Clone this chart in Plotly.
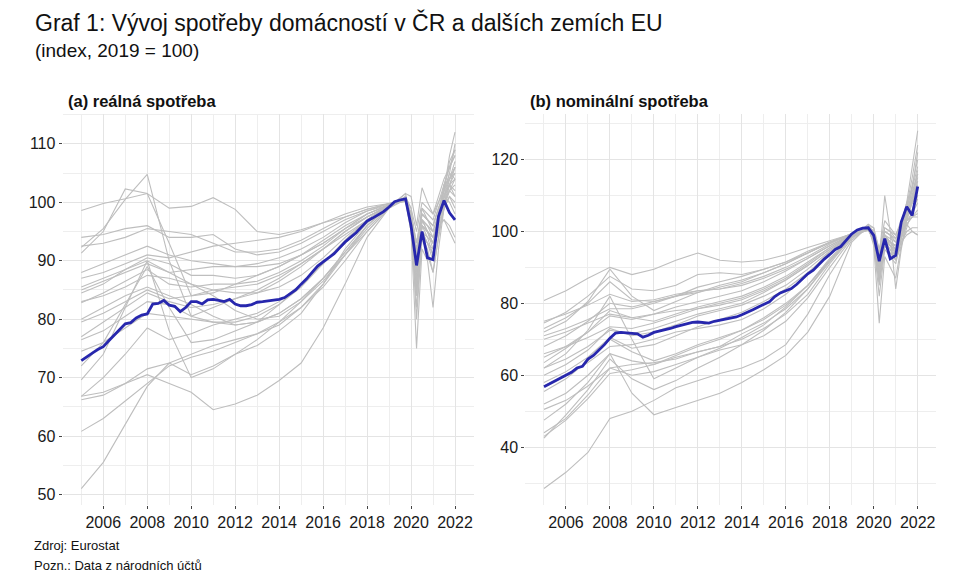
import plotly.graph_objects as go

# ---------------- data ----------------
# grey lines: annual Q1 points 2005-2019, then quarterly 2019Q4-2022Q1
grey_x = [2005, 2006, 2007, 2008, 2009, 2010, 2011, 2012, 2013, 2014, 2015, 2016, 2017, 2018, 2019,
          2019.75, 2020.0, 2020.25, 2020.5, 2020.75, 2021.0, 2021.25, 2021.5, 2021.75, 2022.0]

real_r01 = [98.6, 99.8, 100.6, 101.5, 99.0, 99.3, 100.8, 98.8, 95.0, 94.5, 95.3, 96.5, 98.0, 99.2, 99.8, 100.4, 98, 89, 96, 95, 92, 95, 99, 101, 100]
real_r02 = [92.3, 95.5, 100.5, 104.8, 90.0, 80.5, 82.0, 83.5, 85.0, 87.0, 89.5, 92.0, 95.0, 97.5, 99.5, 100.5, 97, 85, 95, 94, 93, 98, 103, 106, 108]
real_r03 = [91.3, 95.0, 102.3, 101.5, 93.0, 84.0, 84.5, 86.0, 87.5, 89.0, 91.0, 93.0, 95.5, 97.5, 99.3, 100.6, 97, 86, 94, 93, 90, 97, 102, 105, 104]
real_r04 = [94.0, 94.5, 95.5, 96.0, 94.0, 94.0, 94.5, 92.0, 91.0, 91.5, 93.0, 95.0, 97.0, 98.5, 99.5, 100.3, 97, 87, 96, 95, 93, 96, 100, 102, 101]
real_r05 = [92.5, 93.0, 94.0, 95.5, 95.0, 94.5, 93.0, 91.5, 91.5, 92.0, 93.5, 95.5, 97.5, 98.8, 99.7, 100.2, 96, 90, 97, 96, 94, 97, 100, 103, 104]
real_r06 = [85.0, 86.5, 88.0, 89.5, 88.0, 88.5, 89.0, 89.0, 89.5, 90.5, 92.0, 94.0, 96.5, 98.5, 99.8, 100.5, 98, 92, 98, 97, 96, 99, 101, 103, 102]
real_r07 = [84.5, 86.0, 88.5, 90.5, 89.5, 87.5, 87.5, 87.0, 87.5, 89.0, 91.0, 93.5, 96.0, 98.0, 99.5, 100.8, 96, 84, 95, 93, 92, 95, 99, 102, 103]
real_r08 = [82.8, 84.5, 86.5, 88.5, 86.0, 85.5, 86.0, 86.0, 86.5, 88.0, 90.0, 92.5, 95.5, 98.0, 99.6, 100.2, 95, 85, 96, 94, 91, 97, 101, 104, 106]
real_r09 = [85.5, 87.0, 88.5, 90.0, 88.0, 86.0, 84.0, 81.5, 80.0, 80.5, 83.0, 86.5, 91.0, 95.0, 99.0, 101.0, 96, 82, 94, 92, 88, 94, 99, 101, 99]
real_r10 = [80.0, 82.0, 84.0, 85.5, 84.0, 82.5, 80.5, 79.0, 79.5, 81.0, 83.5, 87.0, 91.5, 96.0, 99.3, 100.5, 97, 88, 96, 95, 93, 97, 100, 102, 104]
real_r11 = [79.5, 81.0, 83.0, 85.0, 83.5, 84.0, 85.0, 85.5, 86.0, 87.5, 89.5, 92.0, 94.5, 97.0, 99.4, 100.4, 96, 86, 97, 95, 93, 98, 102, 107, 109]
real_r12 = [77.0, 79.5, 82.0, 84.5, 83.0, 82.0, 82.5, 83.5, 84.5, 86.5, 89.0, 92.0, 95.0, 97.5, 99.5, 100.7, 98, 90, 97, 96, 95, 98, 101, 103, 105]
real_r13 = [76.5, 78.0, 80.5, 83.0, 82.5, 80.5, 79.5, 79.0, 79.5, 81.0, 83.5, 87.0, 91.0, 95.5, 99.2, 101.5, 97, 80, 94, 91, 88, 94, 100, 104, 107]
real_r14 = [74.5, 76.0, 78.5, 81.0, 80.5, 80.0, 79.5, 79.5, 80.5, 82.5, 85.5, 89.5, 93.5, 97.0, 99.5, 100.3, 96, 84, 95, 93, 91, 96, 101, 105, 110]
real_r15 = [69.6, 74.0, 82.0, 90.0, 78.0, 70.0, 71.5, 74.0, 76.5, 79.5, 83.0, 87.0, 91.5, 96.0, 99.3, 101.0, 98, 91, 98, 97, 96, 99, 102, 108, 112]
real_r16 = [72.0, 76.0, 82.5, 89.0, 82.0, 76.0, 76.5, 78.0, 79.5, 82.5, 86.0, 89.5, 93.0, 96.5, 99.5, 100.5, 97, 90, 97, 96, 95, 98, 103, 106, 109]
real_r17 = [66.8, 70.0, 74.0, 78.5, 76.5, 77.5, 79.0, 80.0, 81.0, 83.0, 86.0, 89.5, 93.5, 97.0, 99.5, 100.4, 98, 93, 99, 98, 97, 100, 103, 104, 105]
real_r18 = [66.2, 67.0, 69.0, 71.5, 72.5, 74.0, 75.5, 76.5, 77.5, 79.5, 82.0, 86.0, 91.0, 96.0, 99.3, 100.6, 97, 88, 97, 95, 94, 97, 101, 103, 101]
real_r19 = [60.8, 63.0, 66.0, 69.0, 72.0, 73.5, 74.5, 76.0, 77.5, 79.0, 82.0, 85.5, 90.0, 95.0, 99.0, 100.8, 99, 95, 100, 99, 98, 100, 102, 104, 106]
real_r20 = [51.0, 55.5, 62.0, 68.5, 72.5, 70.5, 72.0, 74.0, 75.5, 78.0, 81.0, 86.0, 92.0, 96.5, 99.2, 101.5, 101, 96, 102.5, 100, 98, 101, 104, 106, 108]
real_r21 = [66.8, 67.5, 69.0, 70.5, 69.0, 67.5, 64.5, 65.5, 67.0, 69.5, 72.5, 78.5, 86.0, 94.0, 99.0, 100.5, 95, 75, 92, 90, 82, 92, 99, 103, 106]
real_r22 = [87.0, 88.0, 89.5, 91.0, 90.5, 91.5, 92.5, 93.0, 93.5, 94.0, 95.0, 96.5, 97.5, 98.8, 99.8, 100.2, 98, 93, 98, 97, 96, 99, 101, 100, 98]
real_r23 = [83.0, 84.0, 85.5, 87.5, 87.0, 86.0, 85.0, 84.5, 84.5, 85.5, 87.5, 90.5, 94.0, 97.0, 99.4, 100.4, 97, 89, 96, 95, 94, 96, 97, 95, 93]
real_r24 = [88.0, 89.5, 91.0, 92.5, 91.0, 90.0, 89.5, 89.0, 89.0, 89.5, 91.0, 93.0, 95.5, 98.0, 99.6, 100.9, 99, 91, 99, 97, 95, 96, 97, 96, 94]

nom_n01 = [80.8, 83.5, 87.0, 90.0, 88.0, 89.5, 92.0, 94.0, 92.0, 91.5, 92.0, 93.5, 95.5, 97.5, 99.3, 100.6, 99, 90, 98, 97, 95, 99, 102, 100, 99]
nom_n02 = [74.5, 77.5, 82.0, 87.5, 84.0, 83.5, 85.0, 88.0, 88.5, 88.0, 89.5, 91.5, 94.5, 97.0, 99.2, 100.5, 98, 86, 97, 95, 92, 98, 104, 108, 114]
nom_n03 = [73.0, 76.0, 80.0, 86.0, 81.0, 80.5, 82.0, 83.5, 84.0, 85.5, 87.5, 90.0, 93.0, 96.5, 99.4, 101.0, 99, 88, 99, 96, 94, 99, 104, 110, 117]
nom_n04 = [72.0, 75.0, 80.5, 89.5, 82.0, 78.0, 80.5, 83.0, 85.0, 86.5, 88.5, 91.0, 94.0, 97.0, 99.3, 100.8, 98, 85, 96, 94, 93, 100, 106, 113, 120]
nom_n05 = [71.0, 73.0, 75.5, 78.5, 78.5, 80.0, 82.0, 84.5, 86.0, 87.5, 89.5, 91.5, 94.0, 96.8, 99.3, 100.5, 98, 88, 98, 96, 95, 99, 103, 105, 108]
nom_n06 = [68.0, 71.0, 75.0, 80.0, 79.0, 80.5, 82.0, 83.0, 84.5, 86.0, 88.5, 91.0, 94.0, 97.0, 99.4, 100.7, 97, 82, 95, 93, 91, 98, 104, 112, 122]
nom_n07 = [65.0, 68.0, 72.0, 76.5, 75.5, 77.0, 79.0, 80.5, 82.0, 83.5, 86.0, 89.0, 92.5, 96.0, 99.2, 101.5, 96, 74.5, 93, 90, 87, 96, 103, 108, 115]
nom_n08 = [62.0, 64.5, 68.0, 72.5, 71.5, 73.0, 75.0, 77.0, 78.5, 80.0, 83.0, 86.5, 90.5, 95.0, 99.0, 101.2, 98, 88, 98, 96, 95, 101, 107, 115, 124]
nom_n09 = [60.0, 63.0, 67.0, 73.0, 71.0, 72.0, 74.0, 76.5, 78.0, 79.5, 82.0, 85.0, 89.5, 94.5, 98.8, 101.0, 100, 92, 100, 99, 98, 102, 108, 118, 128]
nom_n10 = [58.0, 61.0, 65.0, 70.5, 67.5, 68.5, 71.0, 73.5, 75.5, 77.5, 80.5, 84.0, 88.5, 94.0, 98.8, 101.0, 99, 90, 99, 97, 95, 100, 105, 109, 112]
nom_n11 = [55.5, 59.0, 64.0, 70.0, 66.5, 64.0, 66.0, 68.5, 70.5, 72.5, 75.5, 79.5, 85.0, 92.5, 98.5, 101.5, 100, 92, 110, 100, 93, 102, 108, 112, 118]
nom_n12 = [62.0, 66.0, 72.5, 82.0, 70.0, 59.0, 62.0, 65.0, 67.5, 70.5, 74.0, 79.0, 85.0, 92.0, 98.5, 101.0, 99, 90, 99, 97, 96, 101, 106, 110, 113]
nom_n13 = [52.0, 55.0, 60.0, 66.0, 64.0, 63.0, 65.0, 66.5, 68.0, 71.5, 74.5, 78.5, 84.0, 91.5, 98.3, 100.5, 99, 92, 99, 98, 97, 100, 104, 106, 109]
nom_n14 = [50.5, 53.0, 57.0, 62.0, 60.0, 61.0, 63.0, 65.0, 67.0, 68.5, 71.0, 75.0, 81.5, 90.0, 98.0, 102.0, 101, 93, 101, 100, 99, 103, 107, 111, 116]
nom_n15 = [47.5, 52.0, 58.0, 66.0, 55.0, 49.0, 51.0, 53.0, 55.0, 58.0, 61.5, 65.5, 72.0, 82.0, 97.0, 101.5, 100, 92, 100, 99, 97, 101, 105, 108, 112]
nom_n16 = [44.0, 48.0, 54.5, 62.0, 63.0, 63.5, 64.5, 66.5, 68.0, 70.0, 73.0, 77.0, 82.5, 91.0, 98.5, 101.0, 100, 95, 101, 100, 98, 101, 103, 104, 104]
nom_n17 = [43.0, 47.5, 53.5, 60.5, 61.5, 63.0, 65.5, 68.0, 70.0, 72.5, 76.0, 80.0, 85.0, 92.0, 98.7, 100.8, 98, 88, 97, 96, 93, 97, 100, 101, 101]
nom_n18 = [42.5, 49.0, 56.0, 64.5, 59.0, 56.0, 58.5, 62.0, 65.0, 68.5, 72.5, 77.5, 84.0, 92.0, 98.5, 101.0, 100, 94, 100, 99, 84, 95, 103, 109, 116]
nom_n19 = [28.5, 33.0, 38.5, 48.0, 50.0, 53.0, 56.5, 58.5, 60.5, 62.0, 64.5, 68.5, 77.0, 88.0, 97.5, 101.5, 101, 95, 103, 101, 99, 102, 106, 108, 110]
nom_n20 = [57.0, 60.0, 63.5, 68.0, 68.5, 70.0, 72.0, 73.0, 74.0, 75.5, 78.5, 82.5, 88.0, 94.5, 99.0, 100.3, 98, 91, 98, 97, 96, 99, 102, 104, 106]
nom_n21 = [66.0, 68.0, 70.5, 73.5, 73.0, 74.5, 76.5, 78.5, 80.0, 81.5, 84.0, 87.0, 91.0, 95.5, 99.1, 100.4, 98, 89, 97, 96, 94, 97, 99, 100, 99]
nom_n22 = [70.0, 72.0, 74.5, 77.0, 76.0, 77.0, 78.0, 78.5, 79.5, 81.0, 83.5, 86.5, 90.5, 95.0, 99.0, 100.6, 97, 86, 96, 94, 92, 96, 101, 106, 110]
nom_n23 = [75.0, 77.0, 79.5, 82.5, 80.5, 81.0, 82.5, 83.5, 84.0, 85.0, 87.0, 89.5, 92.5, 96.0, 99.2, 100.3, 98, 87, 97, 95, 93, 98, 102, 104, 105]
nom_n24 = [63.5, 67.5, 72.0, 78.0, 76.0, 75.0, 77.0, 79.0, 80.5, 82.0, 84.5, 87.5, 91.5, 95.5, 99.2, 100.6, 99, 90, 99, 97, 96, 101, 105, 108, 111]

# Czech Republic, quarterly 2005Q1 - 2022Q1
cz_x = [2005 + q / 4 for q in range(69)]
cz_real = [72.9, 73.6, 74.2, 74.8,
           75.3, 76.3, 77.3, 78.2,
           79.2, 79.4, 80.2, 80.7,
           80.9, 82.6, 82.7, 83.2,
           82.4, 82.2, 81.3, 82.0,
           83.0, 83.0, 82.6, 83.3,
           83.4, 83.2, 83.0, 83.4,
           82.6, 82.3, 82.3, 82.5,
           82.9, 83.0, 83.1, 83.2,
           83.4, 83.7, 84.3, 85.0,
           86.0, 86.9, 88.0, 89.1,
           89.8, 90.5, 91.2, 92.2,
           93.2, 94.0, 94.8, 95.8,
           96.8, 97.3, 97.9, 98.4,
           99.2, 100.1, 100.4, 100.6,
           96.0, 89.2, 95.0, 90.5,
           90.2, 97.6, 100.3, 98.2,
           97.0]
cz_nom = [56.8, 57.6, 58.4, 59.2,
          60.0, 60.8, 62.0, 62.5,
          64.5, 65.5, 67.0, 68.5,
          70.3, 71.7, 71.9, 71.7,
          71.6, 71.5, 70.6, 71.1,
          71.9, 72.2, 72.5, 73.0,
          73.5, 73.9, 74.2, 74.7,
          74.8, 74.6, 74.5, 75.0,
          75.3, 75.6, 75.8, 76.2,
          76.8, 77.4, 78.2, 79.0,
          79.6, 80.4, 81.9, 82.9,
          83.5, 84.1, 85.3, 86.7,
          88.2, 89.2, 90.8, 92.3,
          93.6, 95.0, 95.8, 97.6,
          99.3, 100.4, 100.9, 101.0,
          98.9, 91.7, 98.0, 92.4,
          93.3, 102.6, 106.9, 104.4,
          112.5]

real_series = [real_r01, real_r02, real_r03, real_r04, real_r05, real_r06, real_r07, real_r08,
               real_r09, real_r10, real_r11, real_r12, real_r13, real_r14, real_r15, real_r16,
               real_r17, real_r18, real_r19, real_r20, real_r21, real_r22, real_r23, real_r24]
nom_series = [nom_n01, nom_n02, nom_n03, nom_n04, nom_n05, nom_n06, nom_n07, nom_n08,
              nom_n09, nom_n10, nom_n11, nom_n12, nom_n13, nom_n14, nom_n15, nom_n16,
              nom_n17, nom_n18, nom_n19, nom_n20, nom_n21, nom_n22, nom_n23, nom_n24]

x_ticks = [2006, 2008, 2010, 2012, 2014, 2016, 2018, 2020, 2022]

title = "Graf 1: Vývoj spotřeby domácností v ČR a dalších zemích EU"
subtitle = "(index, 2019 = 100)"
panel_a = "(a) reálná spotřeba"
panel_b = "(b) nominální spotřeba"
caption1 = "Zdroj: Eurostat"
caption2 = "Pozn.: Data z národních účtů"

# ---------------- figure ----------------
W, H = 974, 586
GREY = "#BEBEBE"
BLUE = "#2727AD"
FONT = "Liberation Sans, Arial, sans-serif"

fig = go.Figure()
for s in real_series:
    fig.add_trace(go.Scatter(x=grey_x, y=s, mode="lines", line=dict(color=GREY, width=1.1),
                             xaxis="x", yaxis="y", showlegend=False, hoverinfo="skip"))
fig.add_trace(go.Scatter(x=cz_x, y=cz_real, mode="lines", line=dict(color=BLUE, width=2.8),
                         xaxis="x", yaxis="y", showlegend=False))
for s in nom_series:
    fig.add_trace(go.Scatter(x=grey_x, y=s, mode="lines", line=dict(color=GREY, width=1.1),
                             xaxis="x2", yaxis="y2", showlegend=False, hoverinfo="skip"))
fig.add_trace(go.Scatter(x=cz_x, y=cz_nom, mode="lines", line=dict(color=BLUE, width=2.8),
                         xaxis="x2", yaxis="y2", showlegend=False))

def px(x):
    return x / W

def py(y):
    return 1 - y / H

y_dom = [py(505), py(113.5)]
tickfont = dict(family=FONT, size=16, color="#1a1a1a")
grid_major = "#E4E4E4"
grid_minor = "#EEEEEE"

xcommon = dict(range=[2004.15, 2022.85], tickmode="array", tickvals=x_ticks,
               ticktext=[str(t) for t in x_ticks],
               showgrid=True, gridcolor=grid_major, gridwidth=1,
               minor=dict(tickmode="array", tickvals=[2005 + i for i in range(0, 18, 2)],
                          showgrid=True, gridcolor=grid_minor, gridwidth=1, ticks=""),
               zeroline=False, showline=False, ticks="outside", ticklen=3,
               tickcolor="#444", tickwidth=1, tickfont=tickfont, automargin=False,
               fixedrange=True)

fig.update_layout(
    width=W, height=H,
    margin=dict(l=0, r=0, t=0, b=0),
    paper_bgcolor="white", plot_bgcolor="white",
    template="none",
    showlegend=False,
    xaxis=dict(domain=[px(62.6), px(473.7)], anchor="y", **xcommon),
    xaxis2=dict(domain=[px(525.3), px(936.4)], anchor="y2", **xcommon),
    yaxis=dict(domain=y_dom, anchor="x", range=[48.2, 115.2], tickmode="array",
               tickvals=[50, 60, 70, 80, 90, 100, 110],
               showgrid=True, gridcolor=grid_major, gridwidth=1,
               minor=dict(tickmode="array", tickvals=[55, 65, 75, 85, 95, 105, 115],
                          showgrid=True, gridcolor=grid_minor, gridwidth=1, ticks=""),
               zeroline=False, showline=False, ticks="outside", ticklen=3,
               tickcolor="#444", tickfont=tickfont, automargin=False, fixedrange=True),
    yaxis2=dict(domain=y_dom, anchor="x2", range=[23.9, 132.8], tickmode="array",
                tickvals=[40, 60, 80, 100, 120],
                showgrid=True, gridcolor=grid_major, gridwidth=1,
                minor=dict(tickmode="array", tickvals=[30, 50, 70, 90, 110, 130],
                           showgrid=True, gridcolor=grid_minor, gridwidth=1, ticks=""),
                zeroline=False, showline=False, ticks="outside", ticklen=3,
                tickcolor="#444", tickfont=tickfont, automargin=False, fixedrange=True),
)

def note(text, x, y, size, bold=False):
    fig.add_annotation(text=("<b>%s</b>" % text) if bold else text,
                       xref="paper", yref="paper", x=px(x), y=py(y),
                       xanchor="left", yanchor="middle", showarrow=False,
                       font=dict(family=FONT, size=size, color="#111"))

note(title, 33, 22, 23)
note(subtitle, 33, 51, 19)
note(panel_a, 66, 101, 16.5, bold=True)
note(panel_b, 528, 101, 16.5, bold=True)
note(caption1, 32, 545, 13)
note(caption2, 32, 565, 13)

fig.write_html("out.html")
